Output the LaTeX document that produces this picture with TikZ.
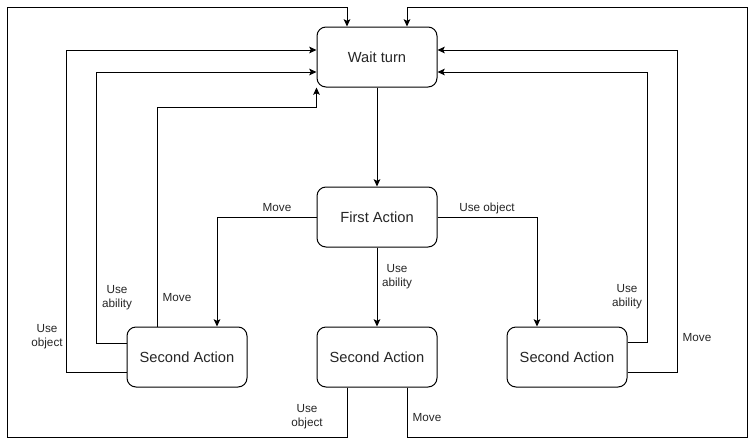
\documentclass[tikz,border=0pt]{standalone}
\usepackage{fontspec}
\setmainfont{Liberation Sans}
\usetikzlibrary{arrows.meta,calc}
\begin{document}
\begin{tikzpicture}[x=0.75pt,y=-0.75pt,
  box/.style={draw=black,line width=0.75pt,rounded corners=6.75pt,minimum width=90pt,minimum height=45pt,inner sep=0pt,font=\fontsize{11}{13}\selectfont,text=black!85},
  arr/.style={draw=black,line width=0.75pt,-{Stealth[length=5.5pt,width=5pt,inset=1.2pt]}},
  lbl/.style={font=\fontsize{8.8}{10.3}\selectfont,text=black!85,align=center,inner sep=0pt}]
\useasboundingbox[fill=white] (0,0) rectangle (756,446);
\node[box] (wait) at (377,57) {Wait turn};
\node[box] (first) at (377,217) {First Action};
\node[box] (sa1) at (187,357) {Second Action};
\node[box] (sa2) at (377,357) {Second Action};
\node[box] (sa3) at (567,357) {Second Action};
\coordinate (bl) at (7,437);
\coordinate (tl) at (7,7);
\coordinate (br) at (747,437);
\coordinate (tr) at (747,7);
% first action
\draw[arr] (wait) -- (first);
\draw[arr] (first.west) -| ($(sa1.north)+(30,0)$);
\draw[arr] (first) -- (sa2);
\draw[arr] (first.east) -| ($(sa3.north)+(-30,0)$);
\node[lbl] (l1) at (277,208) {Move};
\node[lbl] (l2) at (397,277) {Use\\ability};
\node[lbl] (l3) at (487,208) {Use object};
% left second action
\draw[arr] ($(sa1.north)+(-30,0)$) |- ($(wait.south west)+(0,20)$) -- (wait.south west);
\draw[arr] ($(sa1.west)+(0,-14)$) -- ++(-30,0) |- ($(wait.west)+(0,15)$);
\draw[arr] ($(sa1.west)+(0,15)$) -- ++(-60,0) |- ($(wait.west)+(0,-7)$);
\node[lbl] (l4) at (177,298) {Move};
\node[lbl] (l5) at (117,298) {Use\\ability};
\node[lbl] (l6) at (47,337) {Use\\object};
% middle second action
\draw[arr] ($(sa2.south)+(-30,0)$) |- (bl) -- (tl) -| ($(wait.north)+(-30,0)$);
\draw[arr] ($(sa2.south)+(30,0)$) |- (br) -- (tr) -| ($(wait.north)+(30,0)$);
\node[lbl] (l7) at (307,417) {Use\\object};
\node[lbl] (l8) at (427,418) {Move};
% right second action
\draw[arr] ($(sa3.east)+(0,-15)$) -- ++(20,0) |- ($(wait.east)+(0,15)$);
\draw[arr] ($(sa3.east)+(0,15)$) -- ++(50,0) |- ($(wait.east)+(0,-7)$);
\node[lbl] (l9) at (627,297) {Use\\ability};
\node[lbl] (l10) at (697,338) {Move};
\end{tikzpicture}
\end{document}
